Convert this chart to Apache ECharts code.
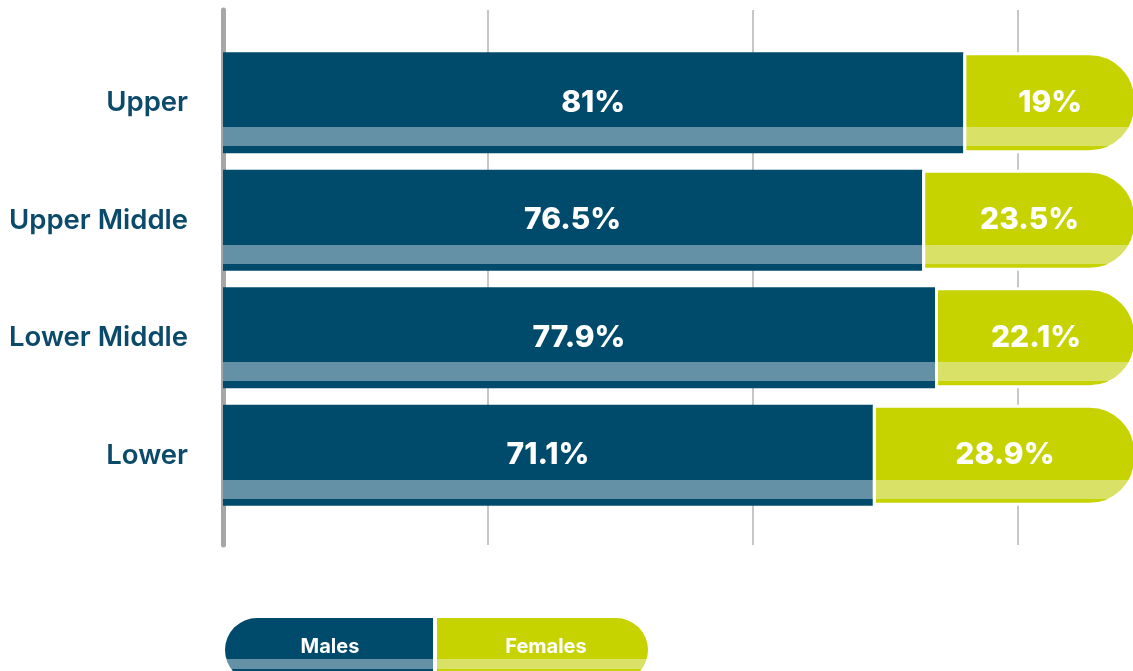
<!DOCTYPE html>
<html>
<head>
<meta charset="utf-8">
<script src="https://cdn.jsdelivr.net/npm/echarts@6/dist/echarts.min.js"></script>
<style>
  html, body { margin: 0; padding: 0; background: #fff; }
  #chart { width: 1133px; height: 671px; }
</style>
</head>
<body>
<div id="chart"></div>
<script>
// chart data
var categories = ['Upper', 'Upper Middle', 'Lower Middle', 'Lower'];
var males = [81, 76.5, 77.9, 71.1];
var females = [19, 23.5, 22.1, 28.9];
var legendNames = ['Males', 'Females'];

var BLUE = '#004b6b', BLUE_STRIPE = '#6491a6';
var GREEN = '#c6d300', GREEN_STRIPE = '#d9e266';

// flat colour with a light band near the bottom
function striped(base, stripe, a, b) {
  return new echarts.graphic.LinearGradient(0, 0, 0, 1, [
    { offset: 0, color: base },
    { offset: a, color: base },
    { offset: a, color: stripe },
    { offset: b, color: stripe },
    { offset: b, color: base },
    { offset: 1, color: base }
  ]);
}

var chart = echarts.init(document.getElementById('chart'));

var labelStyle = {
  show: true,
  position: 'inside',
  color: '#fff',
  fontFamily: 'Inter',
  fontWeight: 800,
  fontSize: 30,
  formatter: '{c}%'
};

chart.setOption({
  animation: false,
  grid: [
    { left: 223, width: 914, top: 10, bottom: 126, outerBoundsMode: 'none' },
    { left: 223, width: 914, top: 44, bottom: 157, outerBoundsMode: 'none' }
  ],
  xAxis: [
    {
      gridIndex: 0,
      type: 'value',
      min: 0,
      max: 100,
      interval: 29,
      axisLine: { show: false },
      axisTick: { show: false },
      axisLabel: { show: false },
      splitLine: { lineStyle: { color: '#b5b5b5', width: 1.5 } }
    },
    {
      gridIndex: 1,
      type: 'value',
      min: 0,
      max: 100,
      show: false
    }
  ],
  yAxis: [
    {
      gridIndex: 0,
      type: 'category',
      data: [''],
      axisLine: { show: true, lineStyle: { color: '#a6a6a6', width: 5 } },
      axisTick: { show: false },
      axisLabel: { show: false },
      splitLine: { show: false }
    },
    {
      gridIndex: 1,
      type: 'category',
      inverse: true,
      data: categories,
      axisLine: { show: false },
      axisTick: { show: false },
      axisLabel: {
        margin: 35,
        color: '#0b4a6a',
        fontFamily: 'Inter',
        fontWeight: 600,
        fontSize: 27.5
      }
    }
  ],
  series: [
    {
      name: legendNames[0],
      type: 'bar',
      xAxisIndex: 1,
      yAxisIndex: 1,
      stack: 'total',
      barWidth: 101,
      data: males,
      itemStyle: { color: striped(BLUE, BLUE_STRIPE, 0.743, 0.931) },
      label: labelStyle
    },
    {
      name: legendNames[1],
      type: 'bar',
      xAxisIndex: 1,
      yAxisIndex: 1,
      stack: 'total',
      barWidth: 101,
      data: females,
      itemStyle: {
        color: striped(GREEN, GREEN_STRIPE, 0.743, 0.931),
        borderColor: '#fff',
        borderWidth: 3,
        borderRadius: [0, 46, 46, 0]
      },
      label: labelStyle
    }
  ],
  // pill legend under the plot
  graphic: [
    {
      type: 'rect',
      shape: { x: 225, y: 618, width: 208, height: 64, r: [32, 0, 0, 32] },
      style: { fill: striped(BLUE, BLUE_STRIPE, 0.64, 0.8) }
    },
    {
      type: 'rect',
      shape: { x: 437, y: 618, width: 211, height: 64, r: [0, 32, 32, 0] },
      style: { fill: striped(GREEN, GREEN_STRIPE, 0.64, 0.8) }
    },
    {
      type: 'text',
      x: 330,
      y: 647,
      style: {
        text: legendNames[0],
        fill: '#fff',
        font: 'bold 20px Inter',
        align: 'center',
        verticalAlign: 'middle'
      }
    },
    {
      type: 'text',
      x: 546,
      y: 647,
      style: {
        text: legendNames[1],
        fill: '#fff',
        font: 'bold 20px Inter',
        align: 'center',
        verticalAlign: 'middle'
      }
    }
  ]
});
</script>
</body>
</html>
